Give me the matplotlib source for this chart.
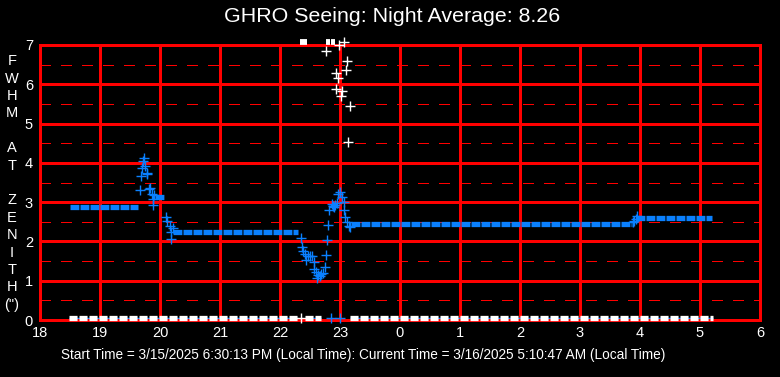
import numpy as np
import matplotlib
matplotlib.use("Agg")
import matplotlib.pyplot as plt

plt.rcParams['font.family'] = ['Liberation Sans', 'DejaVu Sans']
plt.rcParams['lines.scale_dashes'] = False

title = "GHRO Seeing: Night Average: 8.26"
footer = "Start Time = 3/15/2025 6:30:13 PM (Local Time): Current Time = 3/16/2025 5:10:47 AM (Local Time)"
ylabel_letters = ["F", "W", "H", "M", "", "A", "T", "", "Z", "E", "N", "I", "T", "H", "(\")"]

# hours after 18:00 local time run on past midnight (24 -> 0)
hour_ticks = list(range(18, 31))
hour_labels = [str(h % 24) for h in hour_ticks]

# long runs of near-constant FWHM (start hour, end hour, value)
blue_runs_start = [18.50, 19.92, 20.22, 23.19, 27.94]
blue_runs_end = [19.64, 20.08, 22.30, 27.86, 29.20]
blue_runs_val = [2.87, 3.13, 2.25, 2.44, 2.59]

# scattered blue measurements
blue_h = [19.67, 19.68, 19.705, 19.72, 19.733, 19.75, 19.78, 19.79, 19.82, 19.83,
          19.86, 19.88, 19.89, 19.90, 20.10, 20.12, 20.16, 20.18, 20.19, 20.21,
          22.35, 22.37, 22.39, 22.42, 22.43, 22.47, 22.50, 22.53, 22.56, 22.57,
          22.60, 22.62, 22.64, 22.66, 22.69, 22.72, 22.75, 22.77, 22.79, 22.80,
          22.82, 22.86, 22.88, 22.90, 22.92, 22.95, 22.97, 23.00, 23.03, 23.06,
          23.07, 23.08, 23.11, 23.15, 23.17, 27.88, 27.90, 27.93, 27.95,
          22.85, 23.00]
blue_v = [3.31, 3.66, 3.86, 4.06, 4.12, 3.91, 3.75, 3.72, 3.33, 3.37,
          3.22, 3.08, 2.94, 3.18, 2.63, 2.53, 2.40, 2.23, 2.05, 2.35,
          2.10, 1.85, 1.76, 1.68, 1.54, 1.63, 1.63, 1.63, 1.48, 1.31,
          1.23, 1.08, 1.14, 1.12, 1.17, 1.20, 1.34, 1.65, 2.03, 2.42,
          2.79, 2.95, 2.90, 2.88, 2.93, 2.97, 3.22, 3.27, 3.14, 3.01,
          2.80, 2.61, 2.50, 2.39, 2.36, 2.50, 2.52, 2.56, 2.66,
          0.05, 0.05]

# white runs along the zero line
white_runs_start = [18.49, 22.42, 23.17]
white_runs_end = [22.30, 22.68, 29.22]
white_runs_val = [0.05, 0.05, 0.05]

# off-scale readings piled at the top edge
top_runs_start = [22.34, 22.77, 22.85]
top_runs_end = [22.45, 22.83, 22.92]
top_runs_val = [7.07, 7.07, 7.07]

white_h = [22.76, 22.93, 22.94, 22.96, 22.99, 23.02, 23.04, 23.10, 23.12, 23.14,
           23.16, 22.35, 23.07]
white_v = [6.86, 5.88, 6.28, 6.17, 7.00, 5.71, 5.83, 6.36, 6.59, 4.52,
           5.46, 0.05, 7.07]

blue = '#0a80ff'
red = '#ff0000'

fig = plt.figure(figsize=(7.8, 3.77), dpi=100, facecolor='black')
ax = fig.add_axes([40 / 780, 57 / 377, 720 / 780, 275 / 377], facecolor='black')

ax.set_xlim(18, 30)
ax.set_ylim(0, 7)

# grid: solid at whole values, dashed at halves (1 px, crisp)
glw = 0.75
for h in hour_ticks:
    ax.axvline(h, color=red, lw=glw, zorder=1, antialiased=False)
for v in range(0, 8):
    ax.axhline(v, color=red, lw=glw, zorder=1, antialiased=False)
for v in np.arange(0.5, 7, 1.0):
    ax.axhline(v, color=red, lw=glw, ls=(0, (7.2, 7.2)), zorder=1, antialiased=False)
for s in ax.spines.values():
    s.set_color(red)
    s.set_linewidth(glw)
    s.set_antialiased(False)

# blue runs
ax.hlines(blue_runs_val, blue_runs_start, blue_runs_end, color=blue, lw=3.8,
          ls=(0, (6.4, 0.8)), zorder=3)
ax.plot(blue_h, blue_v, ls='none', marker='+', ms=6.5, mew=1.0, color=blue,
        zorder=4, clip_on=False)

# white runs with thin blue under them
ax.hlines(white_runs_val, white_runs_start, white_runs_end,
          color=blue, lw=1.0, zorder=2, clip_on=False)
ax.hlines(white_runs_val, white_runs_start, white_runs_end, color='white', lw=3.8,
          ls=(0, (5.8, 1.4)), zorder=3, clip_on=False)
ax.hlines(top_runs_val, top_runs_start, top_runs_end, color='white', lw=4.2,
          zorder=3, clip_on=False)
ax.plot(white_h, white_v, ls='none', marker='+', ms=6.5, mew=1.0, color='white',
        zorder=4, clip_on=False)

ax.set_xticks(hour_ticks)
ax.set_xticklabels(hour_labels)
ax.set_yticks(range(0, 8))
ax.tick_params(colors='white', length=0, labelsize=10.5, pad=5)
ax.tick_params(axis='x', pad=4)

fig.text(0.503, 1 - 17 / 377, title, color='white', fontsize=15.4, ha='center', va='center')
fig.text(0.465, 1 - 355 / 377, footer, color='white', fontsize=9.8, ha='center', va='center')
fig.text(12 / 780, 1 - 183 / 377, "\n".join(ylabel_letters), color='white', fontsize=10.5,
         ha='center', va='center', linespacing=1.31)

fig.savefig('out.png', dpi=100, facecolor='black')
